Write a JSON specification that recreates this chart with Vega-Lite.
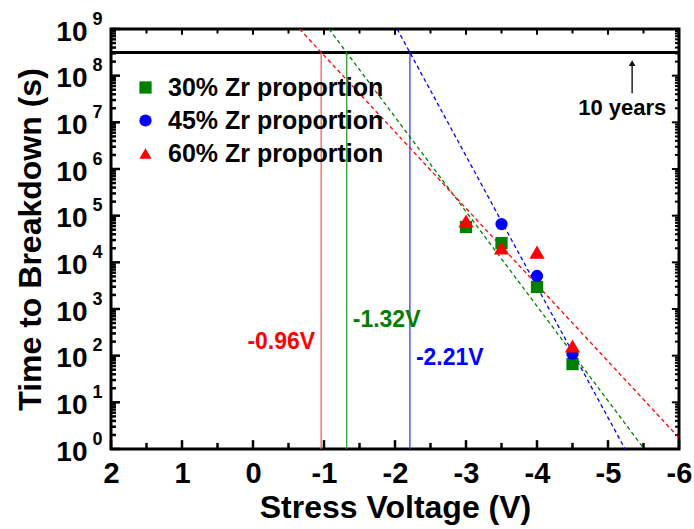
{
  "$schema": "https://vega.github.io/schema/vega-lite/v6.json",
  "width": 568,
  "height": 420,
  "autosize": {"type": "none"},
  "padding": {"left": 111, "top": 29, "right": 15, "bottom": 80},
  "background": "white",
  "config": {
    "view": {"stroke": "black", "strokeWidth": 3},
    "font": "Liberation Sans",
    "axis": {"grid": false, "labelColor": "black", "titleColor": "black", "labelFont": "Liberation Sans", "titleFont": "Liberation Sans", "labelFontWeight": "bold", "titleFontWeight": "bold"}
  },
  "datasets": {
    "pts": [
      {"series": "30% Zr proportion", "v": -3, "t": 57100},
      {"series": "30% Zr proportion", "v": -3.5, "t": 25900},
      {"series": "30% Zr proportion", "v": -4, "t": 2960},
      {"series": "30% Zr proportion", "v": -4.5, "t": 66},
      {"series": "45% Zr proportion", "v": -3.5, "t": 66000},
      {"series": "45% Zr proportion", "v": -4, "t": 5100},
      {"series": "45% Zr proportion", "v": -4.5, "t": 109},
      {"series": "60% Zr proportion", "v": -3, "t": 76800},
      {"series": "60% Zr proportion", "v": -3.5, "t": 20300},
      {"series": "60% Zr proportion", "v": -4, "t": 16600},
      {"series": "60% Zr proportion", "v": -4.5, "t": 161}
    ],
    "fits": [
      {"series": "30% Zr proportion", "v": -1.07, "t": 1000000000},
      {"series": "30% Zr proportion", "v": -5.51, "t": 1},
      {"series": "45% Zr proportion", "v": -2.03, "t": 1000000000},
      {"series": "45% Zr proportion", "v": -5.24, "t": 1},
      {"series": "60% Zr proportion", "v": -0.655, "t": 1000000000},
      {"series": "60% Zr proportion", "v": -6, "t": 1.74}
    ],
    "vlines": [
      {"series": "30% Zr proportion", "v": -1.32, "label": "-1.32V", "ly": 580},
      {"series": "45% Zr proportion", "v": -2.21, "label": "-2.21V", "ly": 91},
      {"series": "60% Zr proportion", "v": -0.96, "label": "-0.96V", "ly": 195}
    ],
    "xmaj": [{"v": 2}, {"v": 1}, {"v": 0}, {"v": -1}, {"v": -2}, {"v": -3}, {"v": -4}, {"v": -5}, {"v": -6}],
    "xmin": [{"v": 1.5}, {"v": 0.5}, {"v": -0.5}, {"v": -1.5}, {"v": -2.5}, {"v": -3.5}, {"v": -4.5}, {"v": -5.5}],
    "ymaj": [{"t": 1}, {"t": 10}, {"t": 100}, {"t": 1000}, {"t": 10000}, {"t": 100000}, {"t": 1000000}, {"t": 10000000}, {"t": 100000000}, {"t": 1000000000}],
    "ymin": [
      {"t": 2}, {"t": 3}, {"t": 4}, {"t": 5}, {"t": 6}, {"t": 7}, {"t": 8}, {"t": 9},
      {"t": 20}, {"t": 30}, {"t": 40}, {"t": 50}, {"t": 60}, {"t": 70}, {"t": 80}, {"t": 90},
      {"t": 200}, {"t": 300}, {"t": 400}, {"t": 500}, {"t": 600}, {"t": 700}, {"t": 800}, {"t": 900},
      {"t": 2000}, {"t": 3000}, {"t": 4000}, {"t": 5000}, {"t": 6000}, {"t": 7000}, {"t": 8000}, {"t": 9000},
      {"t": 20000}, {"t": 30000}, {"t": 40000}, {"t": 50000}, {"t": 60000}, {"t": 70000}, {"t": 80000}, {"t": 90000},
      {"t": 200000}, {"t": 300000}, {"t": 400000}, {"t": 500000}, {"t": 600000}, {"t": 700000}, {"t": 800000}, {"t": 900000},
      {"t": 2000000}, {"t": 3000000}, {"t": 4000000}, {"t": 5000000}, {"t": 6000000}, {"t": 7000000}, {"t": 8000000}, {"t": 9000000},
      {"t": 20000000}, {"t": 30000000}, {"t": 40000000}, {"t": 50000000}, {"t": 60000000}, {"t": 70000000}, {"t": 80000000}, {"t": 90000000},
      {"t": 200000000}, {"t": 300000000}, {"t": 400000000}, {"t": 500000000}, {"t": 600000000}, {"t": 700000000}, {"t": 800000000}, {"t": 900000000}
    ]
  },
  "resolve": {"axis": {"x": "independent", "y": "independent"}},
  "layer": [
    {
      "data": {"values": [{"t": 315000000}]},
      "mark": {"type": "rule", "color": "black", "strokeWidth": 3},
      "encoding": {
        "y": {"field": "t", "type": "quantitative", "scale": {"type": "log", "domain": [1, 1000000000], "nice": false}, "axis": null}
      }
    },
    {
      "data": {"name": "xmaj"},
      "mark": {"type": "rule", "color": "black", "strokeWidth": 2.5},
      "encoding": {
        "x": {"field": "v", "type": "quantitative", "scale": {"domain": [-6, 2], "reverse": true, "nice": false, "zero": false}, "axis": null},
        "y": {"datum": 1, "type": "quantitative", "scale": {"type": "log", "domain": [1, 1000000000], "nice": false}, "axis": null},
        "y2": {"datum": 1.55}
      }
    },
    {
      "data": {"name": "xmin"},
      "mark": {"type": "rule", "color": "black", "strokeWidth": 2.5},
      "encoding": {
        "x": {"field": "v", "type": "quantitative", "scale": {"domain": [-6, 2], "reverse": true, "nice": false, "zero": false}, "axis": null},
        "y": {"datum": 1, "type": "quantitative", "scale": {"type": "log", "domain": [1, 1000000000], "nice": false}, "axis": null},
        "y2": {"datum": 1.35}
      }
    },
    {
      "data": {"name": "xmaj"},
      "mark": {"type": "rule", "color": "black", "strokeWidth": 2},
      "encoding": {
        "x": {"field": "v", "type": "quantitative", "scale": {"domain": [-6, 2], "reverse": true, "nice": false, "zero": false}, "axis": null},
        "y": {"datum": 1000000000, "type": "quantitative", "scale": {"type": "log", "domain": [1, 1000000000], "nice": false}, "axis": null},
        "y2": {"datum": 750000000}
      }
    },
    {
      "data": {"name": "xmin"},
      "mark": {"type": "rule", "color": "black", "strokeWidth": 2},
      "encoding": {
        "x": {"field": "v", "type": "quantitative", "scale": {"domain": [-6, 2], "reverse": true, "nice": false, "zero": false}, "axis": null},
        "y": {"datum": 1000000000, "type": "quantitative", "scale": {"type": "log", "domain": [1, 1000000000], "nice": false}, "axis": null},
        "y2": {"datum": 800000000}
      }
    },
    {
      "data": {"name": "ymaj"},
      "mark": {"type": "rule", "color": "black", "strokeWidth": 2.5},
      "encoding": {
        "y": {"field": "t", "type": "quantitative", "scale": {"type": "log", "domain": [1, 1000000000], "nice": false}, "axis": null},
        "x": {"datum": 2, "type": "quantitative", "scale": {"domain": [-6, 2], "reverse": true, "nice": false, "zero": false}, "axis": null},
        "x2": {"datum": 1.873}
      }
    },
    {
      "data": {"name": "ymin"},
      "mark": {"type": "rule", "color": "black", "strokeWidth": 2.5},
      "encoding": {
        "y": {"field": "t", "type": "quantitative", "scale": {"type": "log", "domain": [1, 1000000000], "nice": false}, "axis": null},
        "x": {"datum": 2, "type": "quantitative", "scale": {"domain": [-6, 2], "reverse": true, "nice": false, "zero": false}, "axis": null},
        "x2": {"datum": 1.93}
      }
    },
    {
      "data": {"name": "ymaj"},
      "mark": {"type": "rule", "color": "black", "strokeWidth": 2},
      "encoding": {
        "y": {"field": "t", "type": "quantitative", "scale": {"type": "log", "domain": [1, 1000000000], "nice": false}, "axis": null},
        "x": {"datum": -6, "type": "quantitative", "scale": {"domain": [-6, 2], "reverse": true, "nice": false, "zero": false}, "axis": null},
        "x2": {"datum": -5.9}
      }
    },
    {
      "data": {"name": "ymin"},
      "mark": {"type": "rule", "color": "black", "strokeWidth": 2},
      "encoding": {
        "y": {"field": "t", "type": "quantitative", "scale": {"type": "log", "domain": [1, 1000000000], "nice": false}, "axis": null},
        "x": {"datum": -6, "type": "quantitative", "scale": {"domain": [-6, 2], "reverse": true, "nice": false, "zero": false}, "axis": null},
        "x2": {"datum": -5.944}
      }
    },
    {
      "data": {"name": "vlines"},
      "mark": {"type": "rule", "strokeWidth": 1.3},
      "encoding": {
        "x": {"field": "v", "type": "quantitative", "scale": {"domain": [-6, 2], "reverse": true, "nice": false, "zero": false}, "axis": null},
        "y": {"datum": 1, "type": "quantitative", "scale": {"type": "log", "domain": [1, 1000000000], "nice": false}, "axis": null},
        "y2": {"datum": 315000000},
        "color": {"condition": [{"test": "datum.series == '30% Zr proportion'", "value": "#2e9a2e"}, {"test": "datum.series == '45% Zr proportion'", "value": "#3a3aff"}], "value": "#ff5a5a"}
      }
    },
    {
      "data": {"name": "fits"},
      "mark": {"type": "line", "strokeWidth": 1.3, "strokeDash": [4, 3]},
      "encoding": {
        "x": {"field": "v", "type": "quantitative", "scale": {"domain": [-6, 2], "reverse": true, "nice": false, "zero": false}, "axis": null},
        "y": {"field": "t", "type": "quantitative", "scale": {"type": "log", "domain": [1, 1000000000], "nice": false}, "axis": null},
        "detail": {"field": "series"},
        "color": {"condition": [{"test": "datum.series == '30% Zr proportion'", "value": "#008000"}, {"test": "datum.series == '45% Zr proportion'", "value": "#0000ff"}], "value": "#ff0000"}
      }
    },
    {
      "data": {"name": "vlines"},
      "transform": [{"filter": "datum.series == '60% Zr proportion'"}],
      "mark": {"type": "text", "align": "right", "baseline": "middle", "dx": -6, "fontSize": 23, "fontWeight": "bold", "font": "Liberation Sans", "color": "#ff0000"},
      "encoding": {
        "x": {"field": "v", "type": "quantitative", "scale": {"domain": [-6, 2], "reverse": true, "nice": false, "zero": false}, "axis": null},
        "y": {"field": "ly", "type": "quantitative", "scale": {"type": "log", "domain": [1, 1000000000], "nice": false}, "axis": null},
        "text": {"field": "label"}
      }
    },
    {
      "data": {"name": "vlines"},
      "transform": [{"filter": "datum.series != '60% Zr proportion'"}],
      "mark": {"type": "text", "align": "left", "baseline": "middle", "dx": 6, "fontSize": 23, "fontWeight": "bold", "font": "Liberation Sans"},
      "encoding": {
        "x": {"field": "v", "type": "quantitative", "scale": {"domain": [-6, 2], "reverse": true, "nice": false, "zero": false}, "axis": null},
        "y": {"field": "ly", "type": "quantitative", "scale": {"type": "log", "domain": [1, 1000000000], "nice": false}, "axis": null},
        "text": {"field": "label"},
        "color": {"condition": [{"test": "datum.series == '30% Zr proportion'", "value": "#008000"}], "value": "#0000ff"}
      }
    },
    {
      "data": {"values": [{"v": -5.34, "t1": 42000000, "t2": 190000000}]},
      "mark": {"type": "rule", "color": "#222222", "strokeWidth": 1.5},
      "encoding": {
        "x": {"field": "v", "type": "quantitative", "scale": {"domain": [-6, 2], "reverse": true, "nice": false, "zero": false}, "axis": null},
        "y": {"field": "t1", "type": "quantitative", "scale": {"type": "log", "domain": [1, 1000000000], "nice": false}, "axis": null},
        "y2": {"field": "t2"}
      }
    },
    {
      "data": {"values": [{"v": -5.34, "t": 186000000}]},
      "mark": {"type": "point", "shape": "triangle-up", "filled": true, "size": 45, "color": "#111111", "opacity": 1},
      "encoding": {
        "x": {"field": "v", "type": "quantitative", "scale": {"domain": [-6, 2], "reverse": true, "nice": false, "zero": false}, "axis": null},
        "y": {"field": "t", "type": "quantitative", "scale": {"type": "log", "domain": [1, 1000000000], "nice": false}, "axis": null}
      }
    },
    {
      "data": {"values": [{"v": -5.2, "t": 20400000, "label": "10 years"}]},
      "mark": {"type": "text", "align": "center", "baseline": "middle", "fontSize": 22, "fontWeight": "bold", "font": "Liberation Sans", "color": "black"},
      "encoding": {
        "x": {"field": "v", "type": "quantitative", "scale": {"domain": [-6, 2], "reverse": true, "nice": false, "zero": false}, "axis": null},
        "y": {"field": "t", "type": "quantitative", "scale": {"type": "log", "domain": [1, 1000000000], "nice": false}, "axis": null},
        "text": {"field": "label"}
      }
    },
    {
      "data": {"name": "pts"},
      "mark": {"type": "point", "filled": true, "opacity": 1},
      "encoding": {
        "x": {"field": "v", "type": "quantitative", "scale": {"domain": [-6, 2], "reverse": true, "nice": false, "zero": false},
          "axis": {"orient": "bottom", "values": [2, 1, 0, -1, -2, -3, -4, -5, -6], "labelExpr": "'' + datum.value", "ticks": false, "domain": false, "labelFontSize": 29, "labelPadding": 10, "labelFlush": false, "labelOverlap": false, "labelBound": false, "title": "Stress Voltage (V)", "titleFontSize": 32, "titlePadding": 4}},
        "y": {"field": "t", "type": "quantitative", "scale": {"type": "log", "domain": [1, 1000000000], "nice": false},
          "axis": {"orient": "left", "values": [1, 10, 100, 1000, 10000, 100000, 1000000, 10000000, 100000000, 1000000000], "labelExpr": "'10'", "ticks": false, "domain": false, "labelFontSize": 28, "labelPadding": 24, "labelOffset": 3, "labelFlush": false, "labelOverlap": false, "labelBound": false, "labelBaseline": "middle", "title": "Time to Breakdown (s)", "titleFontSize": 32, "titlePadding": 8}},
        "size": {"condition": {"test": "datum.series == '60% Zr proportion'", "value": 230}, "value": 150},
        "color": {"field": "series", "type": "nominal", "scale": {"domain": ["30% Zr proportion", "45% Zr proportion", "60% Zr proportion"], "range": ["#008000", "#0000ff", "#ff0000"]},
          "legend": {"orient": "none", "legendX": 22, "legendY": 46, "title": null, "labelFontSize": 25, "labelFont": "Liberation Sans", "labelFontWeight": "bold", "labelColor": "black", "labelLimit": 400, "symbolSize": 150, "rowPadding": 7, "labelOffset": 10, "symbolStrokeWidth": 0}},
        "shape": {"field": "series", "type": "nominal", "scale": {"domain": ["30% Zr proportion", "45% Zr proportion", "60% Zr proportion"], "range": ["square", "circle", "triangle-up"]},
          "legend": {"orient": "none", "legendX": 22, "legendY": 46, "title": null, "labelFontSize": 25, "labelFont": "Liberation Sans", "labelFontWeight": "bold", "labelColor": "black", "labelLimit": 400, "symbolSize": 150, "rowPadding": 7, "labelOffset": 10, "symbolStrokeWidth": 0}}
      }
    },
    {
      "data": {"name": "pts"},
      "mark": {"type": "point", "opacity": 0},
      "encoding": {
        "x": {"field": "v", "type": "quantitative", "scale": {"domain": [-6, 2], "reverse": true, "nice": false, "zero": false}, "axis": null},
        "y": {"field": "t", "type": "quantitative", "scale": {"type": "log", "domain": [1, 1000000000], "nice": false},
          "axis": {"orient": "left", "values": [1, 10, 100, 1000, 10000, 100000, 1000000, 10000000, 100000000, 1000000000], "labelExpr": "'' + round(log(datum.value) / LN10)", "ticks": false, "domain": false, "labelFontSize": 18, "labelPadding": 9, "labelOffset": -10, "labelFlush": false, "labelOverlap": false, "labelBound": false, "labelBaseline": "middle", "title": null}}
      }
    }
  ]
}
